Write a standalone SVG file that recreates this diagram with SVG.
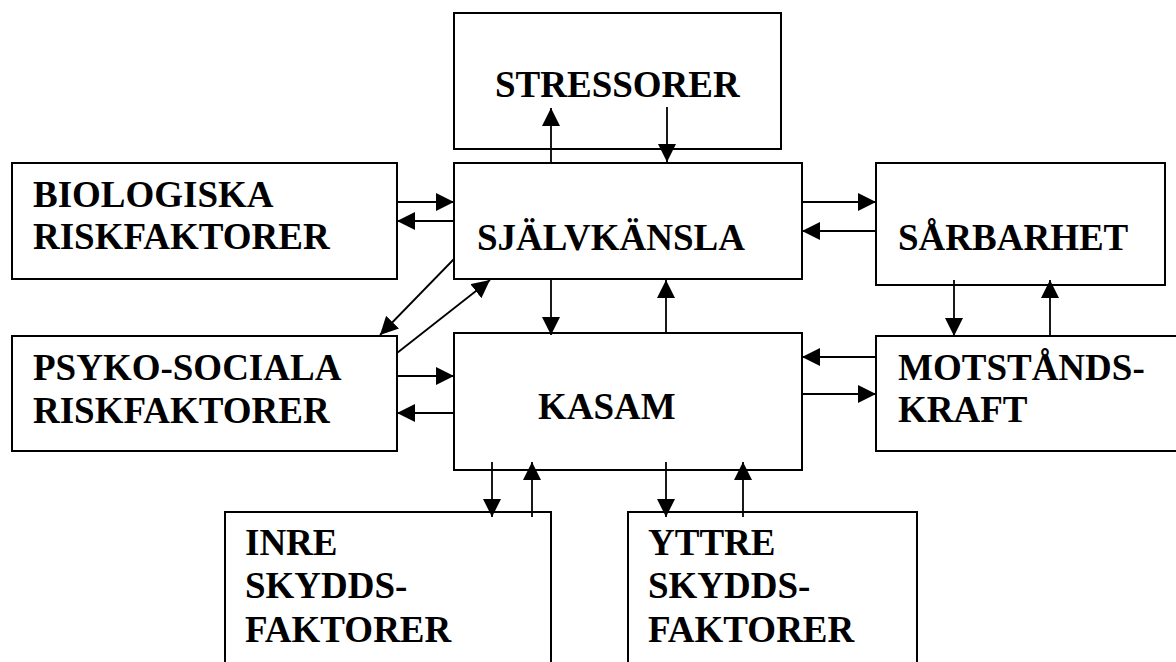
<svg xmlns="http://www.w3.org/2000/svg" width="1176" height="662" viewBox="0 0 1176 662">
<style>
.box{fill:#fff;stroke:#000;stroke-width:2}
.t{font-family:"Liberation Serif","Times New Roman",serif;font-weight:bold;font-size:37px;fill:#000}
.c line{stroke:#000;stroke-width:1.8;marker-end:url(#ah)}
</style>
<defs>
<marker id="ah" markerUnits="userSpaceOnUse" markerWidth="18" markerHeight="18" refX="18" refY="9" orient="auto" viewBox="0 0 18 18">
<path d="M0,0 L18,9 L0,18 z" fill="#000"/>
</marker>
</defs>
<rect width="1176" height="662" fill="#fff"/>
<g id="stressorer"><rect class="box" x="454" y="13" width="327" height="136"/><text class="t" x="495" y="97">STRESSORER</text></g>
<g id="sjalvkansla"><rect class="box" x="454" y="163" width="348" height="116"/><text class="t" x="477" y="250">SJÄLVKÄNSLA</text></g>
<g id="biologiska"><rect class="box" x="12" y="163" width="385" height="116"/><text class="t" x="33" y="207">BIOLOGISKA</text><text class="t" x="33" y="249">RISKFAKTORER</text></g>
<g id="sarbarhet"><rect class="box" x="876" y="163" width="289" height="122"/><text class="t" x="898" y="250">SÅRBARHET</text></g>
<g id="psykosociala"><rect class="box" x="12" y="336" width="385" height="115"/><text class="t" x="33" y="380">PSYKO-SOCIALA</text><text class="t" x="33" y="423">RISKFAKTORER</text></g>
<g id="kasam"><rect class="box" x="454" y="333" width="348" height="137"/><text class="t" x="538" y="419">KASAM</text></g>
<g id="motstandskraft"><rect class="box" x="876" y="336" width="320" height="115"/><text class="t" x="898" y="380">MOTSTÅNDS-</text><text class="t" x="898" y="422">KRAFT</text></g>
<g id="inre"><rect class="box" x="225" y="512" width="326" height="200"/><text class="t" x="245" y="555">INRE</text><text class="t" x="245" y="598">SKYDDS-</text><text class="t" x="245" y="642">FAKTORER</text></g>
<g id="yttre"><rect class="box" x="628" y="512" width="289" height="200"/><text class="t" x="648" y="555">YTTRE</text><text class="t" x="648" y="598">SKYDDS-</text><text class="t" x="648" y="642">FAKTORER</text></g>
<g id="connectors" class="c">
<line x1="551" y1="163" x2="551" y2="108"/>
<line x1="667" y1="107" x2="667" y2="162"/>
<line x1="397" y1="202" x2="454" y2="202"/>
<line x1="454" y1="221" x2="397" y2="221"/>
<line x1="802" y1="202" x2="876" y2="202"/>
<line x1="876" y1="231" x2="802" y2="231"/>
<line x1="954" y1="280" x2="954" y2="336"/>
<line x1="1050" y1="336" x2="1050" y2="280"/>
<line x1="876" y1="357" x2="802" y2="357"/>
<line x1="802" y1="394" x2="876" y2="394"/>
<line x1="551" y1="279" x2="551" y2="335"/>
<line x1="666" y1="333" x2="666" y2="280"/>
<line x1="397" y1="376" x2="454" y2="376"/>
<line x1="454" y1="413" x2="397" y2="413"/>
<line x1="454" y1="259" x2="380" y2="335"/>
<line x1="397" y1="353" x2="490" y2="280"/>
<line x1="492" y1="462" x2="492" y2="517"/>
<line x1="532" y1="517" x2="532" y2="462"/>
<line x1="666" y1="462" x2="666" y2="517"/>
<line x1="743" y1="517" x2="743" y2="462"/>
</g>
</svg>
